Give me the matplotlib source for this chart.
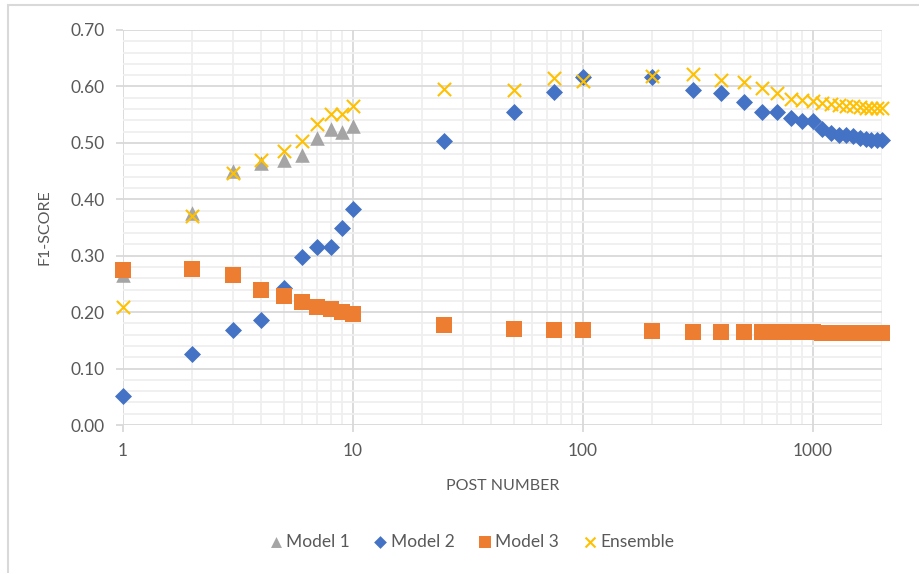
import matplotlib
matplotlib.use("Agg")
import matplotlib.pyplot as plt
from matplotlib.patches import Rectangle
from matplotlib.ticker import LogLocator, MultipleLocator, FixedLocator

plt.rcParams['font.family'] = ['Lato', 'DejaVu Sans']

# post numbers
posts_early = [1, 2, 3, 4, 5, 6, 7, 8, 9, 10]
posts = [1, 2, 3, 4, 5, 6, 7, 8, 9, 10, 25, 50, 75, 100,
         200, 300, 400, 500, 600, 700, 800, 900, 1000,
         1100, 1200, 1300, 1400, 1500, 1600, 1700, 1800, 1900, 2000]

model1 = [0.265, 0.375, 0.451, 0.465, 0.469, 0.479, 0.509, 0.525, 0.520, 0.529]

model2 = [0.051, 0.125, 0.168, 0.186, 0.243, 0.297, 0.315, 0.315, 0.349, 0.383,
          0.503, 0.554, 0.591, 0.617,
          0.616, 0.594, 0.588, 0.573, 0.554, 0.554, 0.544, 0.539, 0.539,
          0.525, 0.517, 0.514, 0.514, 0.512, 0.509, 0.506, 0.505, 0.505, 0.505]

model3 = [0.275, 0.277, 0.265, 0.239, 0.229, 0.218, 0.210, 0.205, 0.201, 0.197,
          0.178, 0.171, 0.169, 0.169,
          0.167, 0.165, 0.165, 0.165, 0.165, 0.165, 0.165, 0.164, 0.164,
          0.163, 0.163, 0.163, 0.163, 0.163, 0.163, 0.163, 0.163, 0.163, 0.163]

ensemble = [0.210, 0.371, 0.446, 0.470, 0.485, 0.503, 0.534, 0.551, 0.552, 0.566,
            0.596, 0.593, 0.615, 0.610,
            0.619, 0.622, 0.612, 0.608, 0.598, 0.588, 0.577, 0.576, 0.575,
            0.570, 0.569, 0.567, 0.566, 0.565, 0.563, 0.562, 0.562, 0.561, 0.561]

TEXT = "#595959"

fig = plt.figure(figsize=(9.2, 5.73), dpi=100)
ax = fig.add_axes([123 / 920, 1 - 425 / 573, (882 - 123) / 920, (425 - 30) / 573])

# outer chart border
fig.patches.append(Rectangle((8 / 920, -0.2), 1.2, 1.2 - 5 / 573,
                             transform=fig.transFigure, fill=False,
                             edgecolor="#d9d9d9", linewidth=1.5))

ax.scatter(posts_early, model1, marker="^", s=110, color="#A5A5A5",
           label="Model 1", zorder=3, clip_on=False, linewidths=0)
ax.scatter(posts, model2, marker="D", s=75, color="#4472C4",
           label="Model 2", zorder=3, clip_on=False, linewidths=0)
ax.scatter(posts, model3, marker="s", s=130, color="#ED7D31",
           label="Model 3", zorder=3, clip_on=False, linewidths=0)
ax.scatter(posts, ensemble, marker="x", s=90, color="#FFC000",
           label="Ensemble", zorder=4, clip_on=False, linewidths=1.5)

ax.set_xscale("log")
ax.set_xlim(1, 2000)
ax.set_ylim(0, 0.70)

ax.xaxis.set_major_locator(FixedLocator([1, 10, 100, 1000]))
ax.xaxis.set_minor_locator(LogLocator(base=10, subs=range(2, 10), numticks=20))
ax.set_xticklabels(["1", "10", "100", "1000"])
ax.yaxis.set_minor_locator(MultipleLocator(0.02))
ax.set_yticks([i / 10 for i in range(8)])
ax.set_yticklabels([f"{i / 10:.2f}" for i in range(8)])

ax.grid(which="major", color="#d9d9d9", linewidth=1.3, zorder=0)
ax.grid(which="minor", color="#efefef", linewidth=1.3, zorder=0)
ax.set_axisbelow(True)

for s in ax.spines.values():
    s.set_visible(False)

ax.tick_params(axis="both", which="major", length=5, color="#d9d9d9",
               width=1.3, labelsize=12.5, labelcolor=TEXT, pad=8)
ax.tick_params(axis="both", which="minor", length=0)

ax.set_xlabel("POST NUMBER", fontsize=11.5, color=TEXT, labelpad=14)
ax.set_ylabel("F1-SCORE", fontsize=11.5, color=TEXT, labelpad=14)

fig.legend(loc="center", bbox_to_anchor=(471 / 920, 1 - 542 / 573), ncol=4,
           frameon=False, fontsize=12.5, labelcolor=TEXT, handletextpad=0.15,
           handlelength=0.9, columnspacing=1.3, scatterpoints=1, markerscale=0.75)

fig.savefig("out.png", dpi=100)
